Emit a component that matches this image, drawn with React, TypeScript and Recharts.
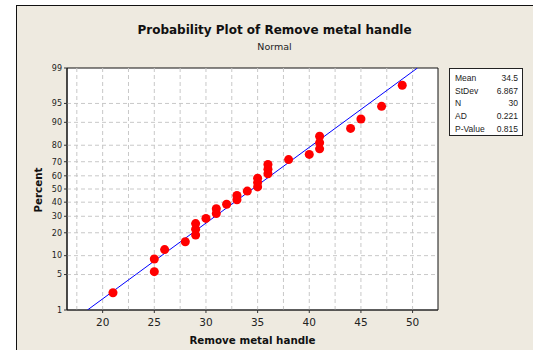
import React from 'react';
import { ComposedChart, Scatter, XAxis, YAxis, ReferenceLine, ReferenceArea, CartesianGrid } from 'recharts';

// sorted observations and their plotted percents (median ranks)
const values = [21, 25, 25, 26, 28, 29, 29, 29, 30, 31, 31, 32, 33, 33, 34, 35, 35, 35, 36, 36, 36, 38, 40, 41, 41, 41, 44, 45, 47, 49];
const percents = [2.3, 5.6, 8.9, 12.2, 15.5, 18.8, 22.0, 25.3, 28.6, 31.9, 35.2, 38.5, 41.8, 45.1, 48.4, 51.6, 54.9, 58.2, 61.5, 64.8, 68.1, 71.4, 74.7, 78.0, 81.3, 84.5, 87.8, 91.1, 94.4, 97.7];

// fitted normal line end points
const fitX = [18.53, 50.47];
const fitPercent = [1, 99];

const percentTicks = [1, 5, 10, 20, 30, 40, 50, 60, 70, 80, 90, 95, 99];
const xTicks = [20, 25, 30, 35, 40, 45, 50];
const xGrid = [17.5, 20, 22.5, 25, 27.5, 30, 32.5, 35, 37.5, 40, 42.5, 45, 47.5, 50];

const stats = [
  ['Mean', '34.5'],
  ['StDev', '6.867'],
  ['N', '30'],
  ['AD', '0.221'],
  ['P-Value', '0.815'],
];

// inverse normal cdf (Acklam)
function probit(p: number) {
  const a = [-39.69683028665376, 220.9460984245205, -275.9285104469687, 138.357751867269, -30.66479806614716, 2.506628277459239];
  const b = [-54.47609879822406, 161.5858368580409, -155.6989798598866, 66.80131188771972, -13.28068155288572];
  const c = [-0.007784894002430293, -0.3223964580411365, -2.400758277161838, -2.549732539343734, 4.374664141464968, 2.938163982698783];
  const d = [0.007784695709041462, 0.3224671290700398, 2.445134137142996, 3.754408661907416];
  const pl = 0.02425;
  if (p < pl) {
    const q = Math.sqrt(-2 * Math.log(p));
    return (((((c[0] * q + c[1]) * q + c[2]) * q + c[3]) * q + c[4]) * q + c[5]) / ((((d[0] * q + d[1]) * q + d[2]) * q + d[3]) * q + 1);
  }
  if (p > 1 - pl) {
    const q = Math.sqrt(-2 * Math.log(1 - p));
    return -(((((c[0] * q + c[1]) * q + c[2]) * q + c[3]) * q + c[4]) * q + c[5]) / ((((d[0] * q + d[1]) * q + d[2]) * q + d[3]) * q + 1);
  }
  const q = p - 0.5;
  const r = q * q;
  return (((((a[0] * r + a[1]) * r + a[2]) * r + a[3]) * r + a[4]) * r + a[5]) * q / (((((b[0] * r + b[1]) * r + b[2]) * r + b[3]) * r + b[4]) * r + 1);
}

const z = (pct: number) => probit(pct / 100);

const points = values.map((v, i) => ({ x: v, y: z(percents[i]) }));
const fitLine = fitX.map((v, i) => ({ x: v, y: z(fitPercent[i]) }));
const yTicks = percentTicks.map(z);
const zMin = z(1);
const zMax = z(99);

const font = '"DejaVu Sans", Verdana, sans-serif';
const font2 = '"Liberation Sans", Arial, sans-serif';

export default function App() {
  return (
    <div style={{ position: 'absolute', left: 0, top: 0, width: 533, height: 350, background: '#fff', overflow: 'hidden', fontFamily: font }}>
      <div style={{ position: 'absolute', left: 16, top: 5, width: 540, height: 360, background: '#EEEAE0', border: '1px solid #111', boxSizing: 'border-box' }} />
      <div style={{ position: 'absolute', left: 16, width: 517, top: 23, lineHeight: '15px', textAlign: 'center', fontWeight: 'bold', fontSize: 12, color: '#111' }}>
        Probability Plot of Remove metal handle
      </div>
      <div style={{ position: 'absolute', left: 16, width: 517, top: 40, lineHeight: '13px', textAlign: 'center', fontSize: 9.5, color: '#222' }}>
        Normal
      </div>
      <div style={{ position: 'absolute', left: 0, top: 0 }}>
        <ComposedChart width={533} height={350} margin={{ top: 68, right: 95, bottom: 20, left: 27 }}>
          <CartesianGrid fill="#fff" horizontal={false} vertical={false} />
          {xGrid.map((g) => (
            <ReferenceLine key={'vx' + g} x={g} stroke="#c8c8c8" strokeDasharray="4 3" />
          ))}
          {yTicks.slice(1, -1).map((g, i) => (
            <ReferenceLine key={'hy' + i} y={g} stroke="#c8c8c8" strokeDasharray="4 3" />
          ))}
          <XAxis
            type="number"
            dataKey="x"
            domain={[16.55, 52.46]}
            ticks={xTicks}
            allowDataOverflow
            height={20}
            tickSize={3}
            tickMargin={6}
            axisLine={{ stroke: '#333' }}
            tickLine={{ stroke: '#333' }}
            tick={{ fontSize: 10.5, fill: '#222', fontFamily: font }}
          />
          <YAxis
            type="number"
            dataKey="y"
            domain={[zMin, zMax]}
            ticks={yTicks}
            allowDataOverflow
            interval={0}
            width={40}
            tickSize={3}
            tickMargin={2}
            tickFormatter={(v: number) => {
              const i = yTicks.findIndex((t) => Math.abs(t - v) < 1e-6);
              return i >= 0 ? String(percentTicks[i]) : '';
            }}
            axisLine={{ stroke: '#111' }}
            tickLine={{ stroke: '#333' }}
            tick={{ fontSize: 8, fill: '#222', fontFamily: font }}
          />
          <ReferenceArea x1={16.55} x2={52.46} y1={zMin} y2={zMax} fill="none" stroke="#111" strokeWidth={1} />
          <Scatter data={fitLine} line={{ stroke: '#0000ff', strokeWidth: 1 }} shape={() => null} isAnimationActive={false} />
          <Scatter data={points} fill="#ff0000" isAnimationActive={false} />
        </ComposedChart>
      </div>
      <div
        style={{
          position: 'absolute',
          left: 96,
          top: 333,
          width: 313,
          lineHeight: '14px',
          textAlign: 'center',
          fontWeight: 'bold',
          fontSize: 10.3,
          color: '#111',
        }}
      >
        Remove metal handle
      </div>
      <div
        style={{
          position: 'absolute',
          left: 38 - 50,
          top: 190 - 7,
          width: 100,
          lineHeight: '14px',
          textAlign: 'center',
          fontWeight: 'bold',
          fontSize: 10.3,
          color: '#111',
          transform: 'rotate(-90deg)',
        }}
      >
        Percent
      </div>
      <div
        style={{
          position: 'absolute',
          left: 449,
          top: 68,
          width: 74,
          height: 68,
          background: '#fff',
          border: '1px solid #222',
          boxSizing: 'border-box',
          padding: '3px 4px 0 5px',
          fontSize: 8.5,
          fontFamily: font2,
          color: '#222',
        }}
      >
        {stats.map(([k, v]) => (
          <div key={k} style={{ display: 'flex', justifyContent: 'space-between', height: 12.7, lineHeight: '12.7px' }}>
            <span>{k}</span>
            <span>{v}</span>
          </div>
        ))}
      </div>
    </div>
  );
}
